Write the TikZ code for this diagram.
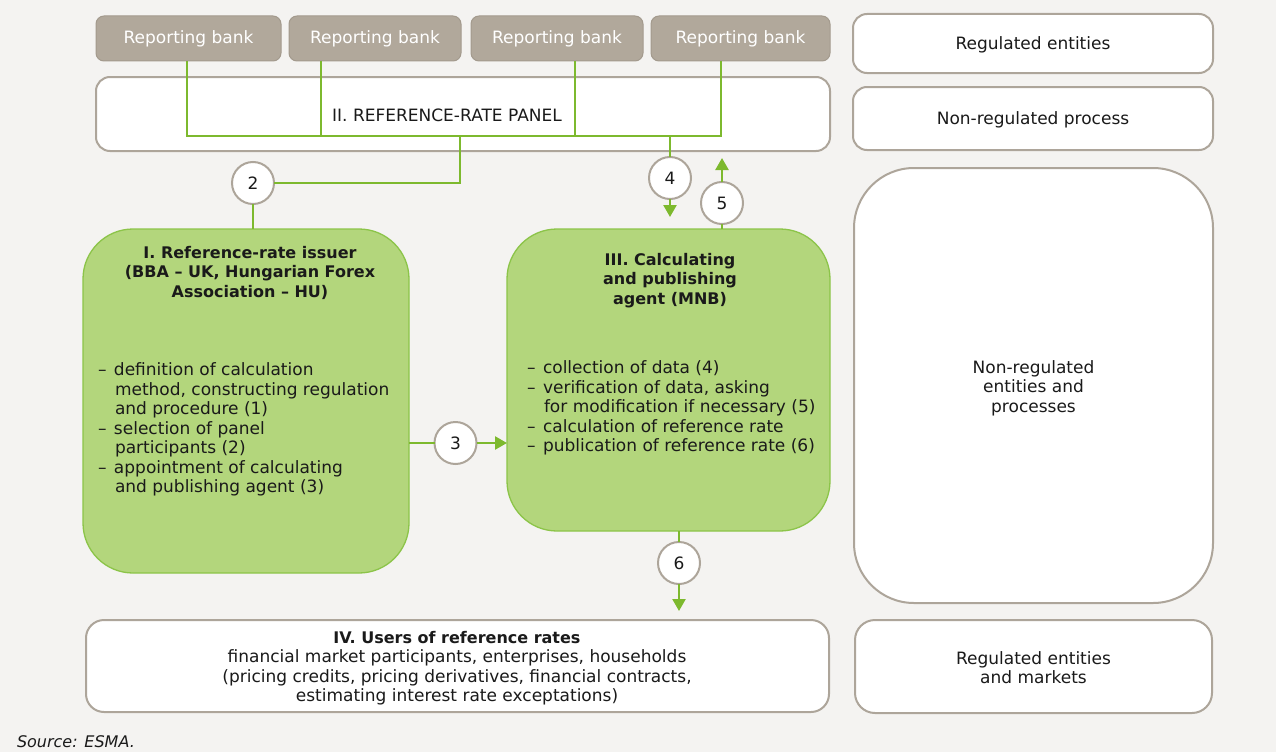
\documentclass[tikz,border=0pt]{standalone}
\usepackage{fontspec}
\setmainfont{DejaVu Sans}
\usetikzlibrary{arrows.meta}
\definecolor{bg}{HTML}{F4F3F1}
\definecolor{bankfill}{HTML}{B1A89B}
\definecolor{bankborder}{HTML}{A39A8D}
\definecolor{bordergray}{HTML}{ADA59A}
\definecolor{greenfill}{HTML}{B3D67C}
\definecolor{greenline}{HTML}{7DB92E}
\definecolor{greenborder}{HTML}{8CC449}
\definecolor{txt}{HTML}{1A1A1A}
\newcommand{\bul}{\makebox[16pt][l]{–}}
\newcommand{\ind}{\hspace*{17pt}}
\begin{document}
\begin{tikzpicture}[x=1pt,y=-1pt,
  every node/.style={inner sep=0pt, outer sep=0pt, text=txt, font=\fontsize{17}{19.5}\selectfont},
  bank/.style={draw=bankborder, line width=1pt, fill=bankfill, rounded corners=8pt, minimum height=45pt, text=white},
  wbox/.style={draw=bordergray, line width=2pt, fill=white, rounded corners=#1, align=center},
  gbox/.style={draw=greenborder, line width=1.3pt, fill=greenfill, rounded corners=50pt},
  num/.style={circle, draw=bordergray, line width=2pt, fill=white, minimum size=42pt},
  gl/.style={draw=greenline, line width=2.4pt},
  ga/.style={gl, -{Triangle[length=12pt,width=13pt]}},
  ttl/.style={font=\bfseries\fontsize{16}{19.5}\selectfont, align=center},
]
\useasboundingbox (0,0) rectangle (1276,752);
\fill[bg] (0,0) rectangle (1276,752);

% reporting banks
\node[bank, minimum width=185pt] (b1) at (188.5,38.5) {Reporting bank};
\node[bank, minimum width=172pt] (b2) at (375,38.5) {Reporting bank};
\node[bank, minimum width=172pt] (b3) at (557,38.5) {Reporting bank};
\node[bank, minimum width=179pt] (b4) at (740.5,38.5) {Reporting bank};

% panel
\node[wbox=14pt, minimum width=734pt, minimum height=74pt] (panel) at (463,114) {};
\node (panelt) at (447,115) {II. REFERENCE-RATE PANEL};

% green boxes
\node[gbox, minimum width=326pt, minimum height=344pt] (iss) at (246,401) {};
\node[gbox, minimum width=323pt, minimum height=302pt] (agent) at (668.5,380) {};

% users
\node[wbox=18pt, minimum width=743pt, minimum height=92pt] (users) at (457.5,666) {};

% right column
\node[wbox=14pt, minimum width=360pt, minimum height=59pt] (r1) at (1033,43.5) {};
\node (r1t) at (1033,45) {Regulated entities};
\node[wbox=14pt, minimum width=360pt, minimum height=63pt] (r2) at (1033,118.5) {};
\node (r2t) at (1033,120) {Non-regulated process};
\node[wbox=60pt, minimum width=359pt, minimum height=435pt] (r3) at (1033.5,385.5) {};
\node[align=center] (r3t) at (1033.5,388) {Non-regulated\\entities and\\processes};
\node[wbox=20pt, minimum width=357pt, minimum height=93pt] (r4) at (1033.5,666.5) {};
\node[align=center] (r4t) at (1033.5,667.5) {Regulated entities\\and markets};

% texts in green boxes
\node[ttl, anchor=north] (isst) at (250,246) {I. Reference-rate issuer\\(BBA – UK, Hungarian Forex\\Association – HU)};
\node[align=left, anchor=north west] (issb) at (98,363) {\bul definition of calculation\\\ind method, constructing regulation\\\ind and procedure (1)\\\bul selection of panel\\\ind participants (2)\\\bul appointment of calculating\\\ind and publishing agent (3)};
\node[ttl, anchor=north] (agentt) at (670,253) {III. Calculating\\and publishing\\agent (MNB)};
\node[align=left, anchor=north west] (agentb) at (527,361) {\bul collection of data (4)\\\bul verification of data, asking\\\ind for modification if necessary (5)\\\bul calculation of reference rate\\\bul publication of reference rate (6)};
\node[align=center, anchor=north] (userst) at (457,631) {{\bfseries\fontsize{16}{19.5}\selectfont IV. Users of reference rates}\\financial market participants, enterprises, households\\(pricing credits, pricing derivatives, financial contracts,\\estimating interest rate exceptations)};

% circles
\node[num] (c2) at (253,183) {2};
\node[num] (c3) at (455.5,443) {3};
\node[num] (c4) at (670,178) {4};
\node[num] (c5) at (722,203) {5};
\node[num] (c6) at (679,563) {6};

% junction coordinates
\coordinate (p1) at (187,136);
\coordinate (p2) at (321,136);
\coordinate (p3) at (575,136);
\coordinate (p4) at (721,136);
\coordinate (p5) at (460,136);
\coordinate (p6) at (670,136);
\coordinate (a4) at (670,217);
\coordinate (a5) at (722,158);
\coordinate (a6) at (679,611);

% connectors
\draw[gl] (b1.south -| p1) -- (p1) -- (p4) -- (b4.south -| p4);
\draw[gl] (b2.south -| p2) -- (p2);
\draw[gl] (b3.south -| p3) -- (p3);
\draw[gl] (p5) |- (c2);
\draw[gl] (c2) -- (c2 |- iss.north);
\draw[gl] (p6) -- (c4);
\draw[ga] (c4) -- (a4);
\draw[gl] (c5 |- agent.north) -- (c5);
\draw[ga] (c5) -- (a5);
\draw[gl] (c3 -| iss.east) -- (c3);
\draw[ga] (c3) -- (c3 -| agent.west);
\draw[gl] (c6 |- agent.south) -- (c6);
\draw[ga] (c6) -- (a6);

% source
\node[anchor=west, font=\itshape\fontsize{16}{19}\selectfont] (src) at (17,742) {Source: ESMA.};
\end{tikzpicture}
\end{document}
